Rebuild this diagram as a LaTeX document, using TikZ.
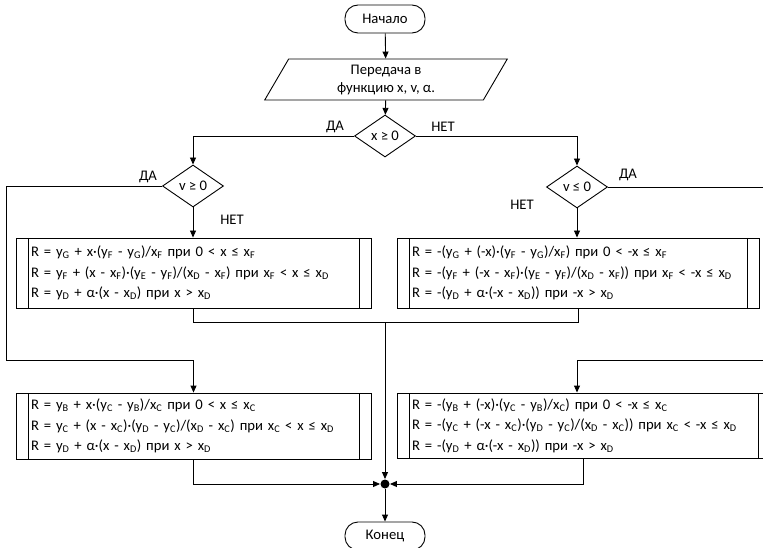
\documentclass[tikz,border=0pt]{standalone}
\usepackage{fontspec}
\setmainfont{Carlito}
\usetikzlibrary{shapes.geometric,arrows.meta,calc}
\newcommand\sbs[1]{\textsubscript{#1}}
\tikzset{
  base/.style={font=\fontsize{14.67}{20.6}\selectfont, line width=0.9pt},
  term/.style={draw, rounded corners=13pt, minimum width=80pt, minimum height=28pt, inner sep=0pt},
  io/.style={draw, trapezium, trapezium left angle=68, trapezium right angle=112,
    trapezium stretches=true, minimum width=243pt, minimum height=41pt, inner sep=0pt,
    align=center, font=\fontsize{14.67}{18}\selectfont},
  dec/.style={draw, diamond, minimum width=61pt, minimum height=42pt, inner sep=0pt},
  proc/.style={draw, rectangle, align=left, inner xsep=15pt, inner ysep=0pt,
    path picture={
      \draw ([xshift=12pt]path picture bounding box.north west) -- ([xshift=12pt]path picture bounding box.south west);
      \draw ([xshift=-12pt]path picture bounding box.north east) -- ([xshift=-12pt]path picture bounding box.south east);
    }},
  lbl/.style={inner sep=0pt},
  arr/.style={-{Triangle[length=7pt,width=6pt]}},
  dot/.style={circle, fill, inner sep=0pt, minimum size=9pt}
}
\begin{document}
\begin{tikzpicture}[x=1pt, y=-1pt, base]
\useasboundingbox (0,0) rectangle (763,548);
\clip (0,0) rectangle (763,548);

\node[term] (start) at (385,19) {Начало};
\node[io] (in) at (386,79.5) {Передача в\\функцию x, v, α.};
\node[dec] (d1) at (385,136) {x ≥ 0};
\node[dec] (d2) at (193,186) {v ≥ 0};
\node[dec] (d3) at (577,187) {v ≤ 0};

\node[proc, text width=325pt, minimum height=70pt] (p1) at (193.5,273) {%
R = y\sbs{G} + x·(y\sbs{F} - y\sbs{G})/x\sbs{F} при 0 < x ≤ x\sbs{F}\\
R = y\sbs{F} + (x - x\sbs{F})·(y\sbs{E} - y\sbs{F})/(x\sbs{D} - x\sbs{F}) при x\sbs{F} < x ≤ x\sbs{D}\\
R = y\sbs{D} + α·(x - x\sbs{D}) при x > x\sbs{D}};

\node[proc, text width=332pt, minimum height=70pt] (p2) at (578,273) {%
R = -(y\sbs{G} + (-x)·(y\sbs{F} - y\sbs{G})/x\sbs{F}) при 0 < -x ≤ x\sbs{F}\\
R = -(y\sbs{F} + (-x - x\sbs{F})·(y\sbs{E} - y\sbs{F})/(x\sbs{D} - x\sbs{F})) при x\sbs{F} < -x ≤ x\sbs{D}\\
R = -(y\sbs{D} + α·(-x - x\sbs{D})) при -x > x\sbs{D}};

\node[proc, text width=325pt, minimum height=66pt] (p3) at (193.5,426) {%
R = y\sbs{B} + x·(y\sbs{C} - y\sbs{B})/x\sbs{C} при 0 < x ≤ x\sbs{C}\\
R = y\sbs{C} + (x - x\sbs{C})·(y\sbs{D} - y\sbs{C})/(x\sbs{D} - x\sbs{C}) при x\sbs{C} < x ≤ x\sbs{D}\\
R = y\sbs{D} + α·(x - x\sbs{D}) при x > x\sbs{D}};

\node[proc, text width=343pt, minimum height=65pt] (p4) at (583.5,425.5) {%
R = -(y\sbs{B} + (-x)·(y\sbs{C} - y\sbs{B})/x\sbs{C}) при 0 < -x ≤ x\sbs{C}\\
R = -(y\sbs{C} + (-x - x\sbs{C})·(y\sbs{D} - y\sbs{C})/(x\sbs{D} - x\sbs{C})) при x\sbs{C} < -x ≤ x\sbs{D}\\
R = -(y\sbs{D} + α·(-x - x\sbs{D})) при -x > x\sbs{D}};

\node[dot] (m) at (385,484) {};
\node[term] (end) at (385,536) {Конец};

\node[lbl] (l1) at (335,127) {ДА};
\node[lbl] (l2) at (443,127) {НЕТ};
\node[lbl] (l3) at (148,177) {ДА};
\node[lbl] (l4) at (232,220) {НЕТ};
\node[lbl] (l5) at (628,175) {ДА};
\node[lbl] (l6) at (522,205) {НЕТ};

\coordinate (lc) at (6,360);
\coordinate (rc) at (775,360);
\coordinate (j) at (385,322);

\draw[arr] (start) -- (in);
\draw[arr] (in) -- (d1);
\draw[arr] (d1.west) -| (d2.north);
\draw[arr] (d1.east) -| (d3.north);
\draw[arr] (d2.south) -- (p1.north -| d2);
\draw[arr] (d3.south) -- (p2.north -| d3);
\draw[arr] (d2.west) -| (lc) -| (p3.north);
\draw[arr] (d3.east) -| (rc) -| (p4.north -| d3);
\draw (p1.south) |- (j);
\draw (p2.south) |- (j);
\draw[arr] (j) -- (m.north);
\draw[arr] (p3.south) |- (m.west);
\draw[arr] (p4.south) |- (m.east);
\draw[arr] (m.south) -- (end.north);
\end{tikzpicture}
\end{document}
